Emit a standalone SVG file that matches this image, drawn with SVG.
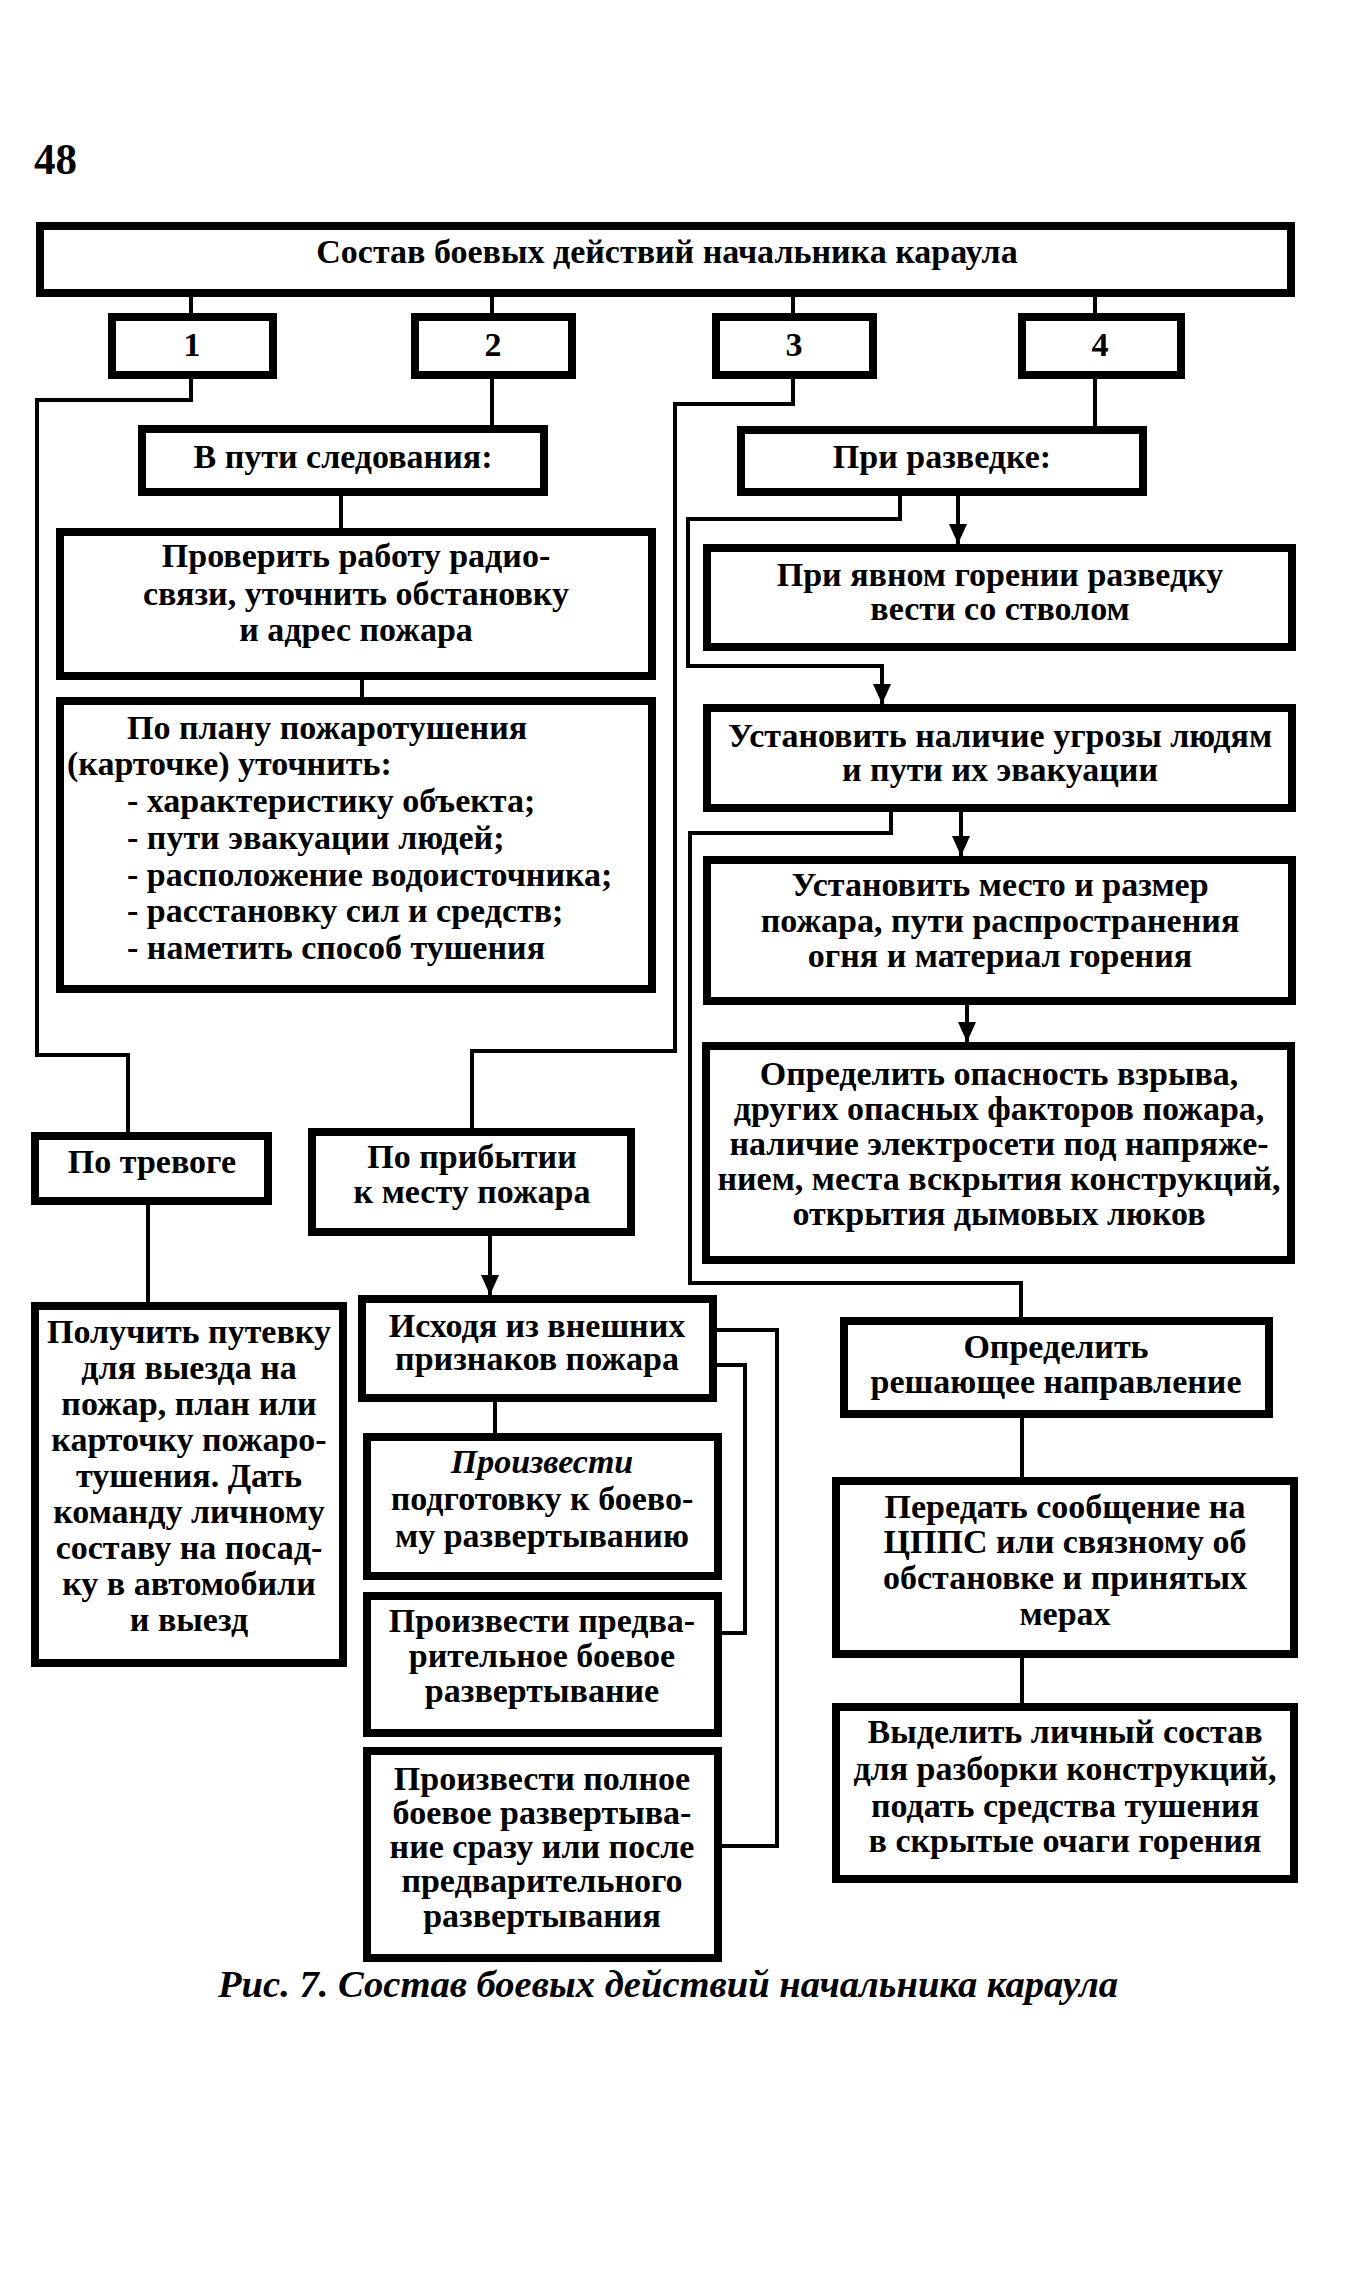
<svg xmlns="http://www.w3.org/2000/svg" width="1349" height="2283" viewBox="0 0 1349 2283">
<style>
.box{fill:#fff;stroke:#000;stroke-width:8}
.ln{fill:none;stroke:#000;stroke-width:4}
.ar{fill:none;stroke:#000;stroke-width:4;marker-end:url(#ah)}
text{font-family:"Liberation Serif","Times New Roman",serif;font-weight:bold;font-size:34px;fill:#000}
.c{text-anchor:middle}
.it{font-style:italic}
</style>
<defs>
<marker id="ah" markerUnits="userSpaceOnUse" markerWidth="20" markerHeight="20" viewBox="0 0 20 20" refX="20" refY="10" orient="auto">
<path d="M0,1 L20,10 L0,19 z" fill="#000"/>
</marker>
</defs>
<rect width="1349" height="2283" fill="#fff"/>
<text x="34" y="174" style="font-size:45px" textLength="43" lengthAdjust="spacingAndGlyphs">48</text>

<g id="connectors">
<path class="ln" d="M191,297V313M492,297V313M793,297V313M1095,297V313"/>
<path class="ln" d="M191,379V400H37V1055H128V1132"/>
<path class="ln" d="M492,379V425"/>
<path class="ln" d="M793,379V404H675V1051H472V1128"/>
<path class="ln" d="M1095,379V426"/>
<path class="ln" d="M341,496V528"/>
<path class="ln" d="M362,680V697"/>
<path class="ar" d="M900,496V519H688V666H882V704"/>
<path class="ar" d="M958,496V544"/>
<path class="ln" d="M891,812V833H690V1283H1021V1317"/>
<path class="ar" d="M961,812V856"/>
<path class="ar" d="M967,1005V1042"/>
<path class="ln" d="M1022,1418V1477"/>
<path class="ln" d="M1022,1658V1703"/>
<path class="ln" d="M148,1205V1302"/>
<path class="ar" d="M490,1236V1295"/>
<path class="ln" d="M495,1402V1433"/>
<path class="ln" d="M717,1330H777V1846H722"/>
<path class="ln" d="M717,1365H745V1633H722"/>
</g>

<g id="n-title"><rect class="box" x="40" y="226" width="1251" height="67"/>
<text class="c" x="667" y="263">Состав боевых действий начальника караула</text></g>

<g id="n-1"><rect class="box" x="112" y="317" width="161" height="58"/><text class="c" x="192" y="356">1</text></g>
<g id="n-2"><rect class="box" x="415" y="317" width="157" height="58"/><text class="c" x="493" y="356">2</text></g>
<g id="n-3"><rect class="box" x="716" y="317" width="157" height="58"/><text class="c" x="794" y="356">3</text></g>
<g id="n-4"><rect class="box" x="1022" y="317" width="159" height="58"/><text class="c" x="1100" y="356">4</text></g>

<g id="n-vputi"><rect class="box" x="142" y="429" width="402" height="63"/>
<text class="c" x="343" y="468">В пути следования:</text></g>

<g id="n-razvedka"><rect class="box" x="741" y="430" width="402" height="62"/>
<text class="c" x="942" y="468">При разведке:</text></g>

<g id="n-proverit"><rect class="box" x="60" y="532" width="592" height="144"/>
<text class="c" x="356" y="567">Проверить работу радио-</text>
<text class="c" x="356" y="605">связи, уточнить обстановку</text>
<text class="c" x="356" y="641">и адрес пожара</text></g>

<g id="n-poplanu"><rect class="box" x="60" y="701" width="592" height="288"/>
<text x="127" y="739">По плану пожаротушения</text>
<text x="67" y="775">(карточке) уточнить:</text>
<text x="127" y="812">- характеристику объекта;</text>
<text x="127" y="849">- пути эвакуации людей;</text>
<text x="127" y="886">- расположение водоисточника;</text>
<text x="127" y="922">- расстановку сил и средств;</text>
<text x="127" y="959">- наметить способ тушения</text></g>

<g id="n-yavnom"><rect class="box" x="707" y="548" width="585" height="99"/>
<text class="c" x="1000" y="586">При явном горении разведку</text>
<text class="c" x="1000" y="620">вести со стволом</text></g>

<g id="n-ugroza"><rect class="box" x="707" y="708" width="585" height="100"/>
<text class="c" x="1000" y="747">Установить наличие угрозы людям</text>
<text class="c" x="1000" y="781">и пути их эвакуации</text></g>

<g id="n-mesto"><rect class="box" x="707" y="860" width="585" height="141"/>
<text class="c" x="1000" y="896">Установить место и размер</text>
<text class="c" x="1000" y="932">пожара, пути распространения</text>
<text class="c" x="1000" y="967">огня и материал горения</text></g>

<g id="n-opasnost"><rect class="box" x="706" y="1046" width="585" height="214"/>
<text class="c" x="999" y="1085">Определить опасность взрыва,</text>
<text class="c" x="999" y="1120">других опасных факторов пожара,</text>
<text class="c" x="999" y="1155">наличие электросети под напряже-</text>
<text class="c" x="999" y="1190">нием, места вскрытия конструкций,</text>
<text class="c" x="999" y="1225">открытия дымовых люков</text></g>

<g id="n-trevoga"><rect class="box" x="35" y="1136" width="233" height="65"/>
<text class="c" x="152" y="1173">По тревоге</text></g>

<g id="n-pribytii"><rect class="box" x="312" y="1132" width="319" height="100"/>
<text class="c" x="472" y="1168">По прибытии</text>
<text class="c" x="472" y="1203">к месту пожара</text></g>

<g id="n-putevka"><rect class="box" x="35" y="1306" width="308" height="357"/>
<text class="c" x="189" y="1343">Получить путевку</text>
<text class="c" x="189" y="1379">для выезда на</text>
<text class="c" x="189" y="1415">пожар, план или</text>
<text class="c" x="189" y="1451">карточку пожаро-</text>
<text class="c" x="189" y="1487">тушения. Дать</text>
<text class="c" x="189" y="1523">команду личному</text>
<text class="c" x="189" y="1559">составу на посад-</text>
<text class="c" x="189" y="1595">ку в автомобили</text>
<text class="c" x="189" y="1631">и выезд</text></g>

<g id="n-ishodya"><rect class="box" x="362" y="1299" width="351" height="99"/>
<text class="c" x="537" y="1337">Исходя из внешних</text>
<text class="c" x="537" y="1370">признаков пожара</text></g>

<g id="n-podgotovka"><rect class="box" x="367" y="1437" width="351" height="139"/>
<text class="c it" x="542" y="1473">Произвести</text>
<text class="c" x="542" y="1510">подготовку к боево-</text>
<text class="c" x="542" y="1547">му развертыванию</text></g>

<g id="n-predv"><rect class="box" x="367" y="1596" width="351" height="137"/>
<text class="c" x="542" y="1632">Произвести предва-</text>
<text class="c" x="542" y="1667">рительное боевое</text>
<text class="c" x="542" y="1702">развертывание</text></g>

<g id="n-polnoe"><rect class="box" x="367" y="1751" width="351" height="207"/>
<text class="c" x="542" y="1790">Произвести полное</text>
<text class="c" x="542" y="1824">боевое развертыва-</text>
<text class="c" x="542" y="1858">ние сразу или после</text>
<text class="c" x="542" y="1892">предварительного</text>
<text class="c" x="542" y="1927">развертывания</text></g>

<g id="n-reshayuschee"><rect class="box" x="844" y="1321" width="425" height="93"/>
<text class="c" x="1056" y="1358">Определить</text>
<text class="c" x="1056" y="1393">решающее направление</text></g>

<g id="n-peredat"><rect class="box" x="836" y="1481" width="458" height="173"/>
<text class="c" x="1065" y="1518">Передать сообщение на</text>
<text class="c" x="1065" y="1553">ЦППС или связному об</text>
<text class="c" x="1065" y="1589">обстановке и принятых</text>
<text class="c" x="1065" y="1625">мерах</text></g>

<g id="n-vydelit"><rect class="box" x="836" y="1707" width="458" height="172"/>
<text class="c" x="1065" y="1743">Выделить личный состав</text>
<text class="c" x="1065" y="1780">для разборки конструкций,</text>
<text class="c" x="1065" y="1817">подать средства тушения</text>
<text class="c" x="1065" y="1852">в скрытые очаги горения</text></g>

<text class="it" x="218" y="1997" style="font-size:38px" textLength="900" lengthAdjust="spacingAndGlyphs">Рис. 7. Состав боевых действий начальника караула</text>
</svg>
